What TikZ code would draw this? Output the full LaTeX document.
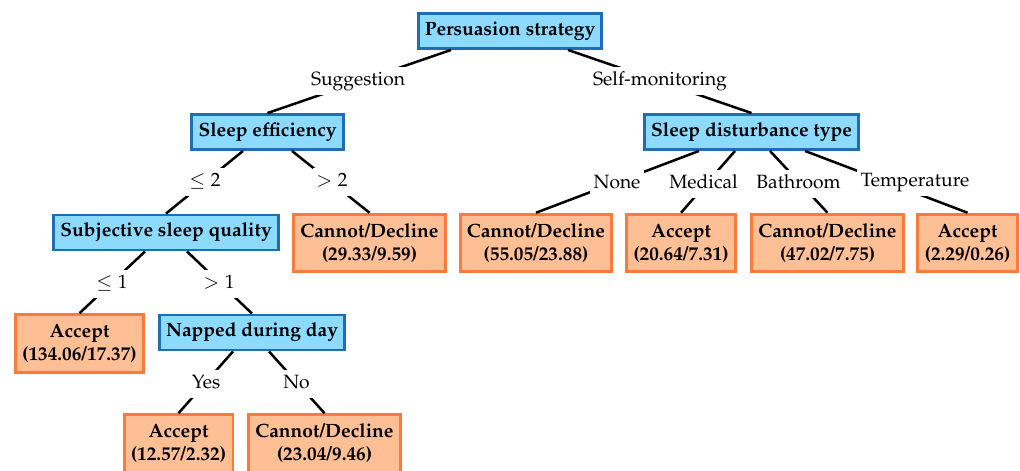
\documentclass[tikz,border=0pt]{standalone}
\usepackage[T1]{fontenc}
\usepackage{mathpazo}
\definecolor{splitfill}{HTML}{8CDBFF}
\definecolor{splitblue}{HTML}{1F6DB5}
\definecolor{leaffill}{HTML}{FFBF94}
\definecolor{leaforange}{HTML}{F97B3A}
\usetikzlibrary{positioning, calc}

\begin{document}
\begin{tikzpicture}[x=0.52pt, y=-0.52pt,
        split/.style={draw=splitblue, fill=splitfill, line width=1.5pt,
                      font=\bfseries, inner xsep=3.5pt, minimum height=18.2pt},
        leaf/.style={draw=leaforange, fill=leaffill, line width=1.5pt,
                     font=\bfseries, align=center, inner xsep=3.5pt, inner ysep=4pt,
                     minimum height=30pt},
        lbl/.style={fill=white, inner xsep=2pt, inner ysep=3pt,
                    text height=7pt, text depth=2pt},
        edge/.style={line width=1.3pt}
      ]
        \useasboundingbox (0,0) rectangle (1020,470);

        % splits
        \node[split] (ps) at (510,31) {Persuasion strategy};
        \node[split] (se) at (267.5,132) {Sleep efficiency};
        \node[split] (sdt) at (751.5,132) {Sleep disturbance type};
        \node[split] (ssq) at (166,232.5) {Subjective sleep quality};
        \node[split] (nap) at (252,332.5) {Napped during day};

        % leaves
        \node[leaf] (cd1) at (369.5,243) {Cannot/Decline\\(29.33/9.59)};
        \node[leaf] (cd2) at (536,243) {Cannot/Decline\\(55.05/23.88)};
        \node[leaf] (acc2) at (681,243) {Accept\\(20.64/7.31)};
        \node[leaf] (cd3) at (827.5,243) {Cannot/Decline\\(47.02/7.75)};
        \node[leaf] (acc3) at (967.5,243) {Accept\\(2.29/0.26)};
        \node[leaf] (acc1) at (79.5,343.5) {Accept\\(134.06/17.37)};
        \node[leaf] (acc4) at (178.5,443.5) {Accept\\(12.57/2.32)};
        \node[leaf] (cd4) at (324.5,443.5) {Cannot/Decline\\(23.04/9.46)};

        % edges
        \draw[edge] ($(ps.south)+(-59,0)$) -- (se.north);
        \draw[edge] ($(ps.south)+(58,0)$) -- (sdt.north);
        \draw[edge] ($(se.south)+(-24.5,0)$) -- (ssq.north);
        \draw[edge] ($(se.south)+(24.5,0)$) -- (cd1.north);
        \draw[edge] ($(sdt.south)+(-52.5,0)$) -- (cd2.north);
        \draw[edge] ($(sdt.south)+(-16.5,0)$) -- (acc2.north);
        \draw[edge] ($(sdt.south)+(18.5,0)$) -- (cd3.north);
        \draw[edge] ($(sdt.south)+(53.5,0)$) -- (acc3.north);
        \draw[edge] ($(ssq.south)+(-21,0)$) -- (acc1.north);
        \draw[edge] ($(ssq.south)+(21,0)$) -- (nap.north);
        \draw[edge] ($(nap.south)+(-19,0)$) -- (acc4.north);
        \draw[edge] ($(nap.south)+(17,0)$) -- (cd4.north);

        % edge labels
        \node[lbl] (lsug) at (358,81) {Suggestion};
        \node[lbl] (lself) at (660,81) {Self-monitoring};
        \node[lbl] (lse1) at (205,182) {$\leq 2$};
        \node[lbl] (lse2) at (332,182) {$> 2$};
        \node[lbl] (lnone) at (617,184) {None};
        \node[lbl] (lmed) at (703.5,184) {Medical};
        \node[lbl] (lbath) at (798.5,184) {Bathroom};
        \node[lbl] (ltemp) at (915,182) {Temperature};
        \node[lbl] (lssq1) at (112,284) {$\leq 1$};
        \node[lbl] (lssq2) at (219,284) {$> 1$};
        \node[lbl] (lyes) at (206,384) {Yes};
        \node[lbl] (lno) at (296.5,384) {No};
      \end{tikzpicture}
\end{document}
